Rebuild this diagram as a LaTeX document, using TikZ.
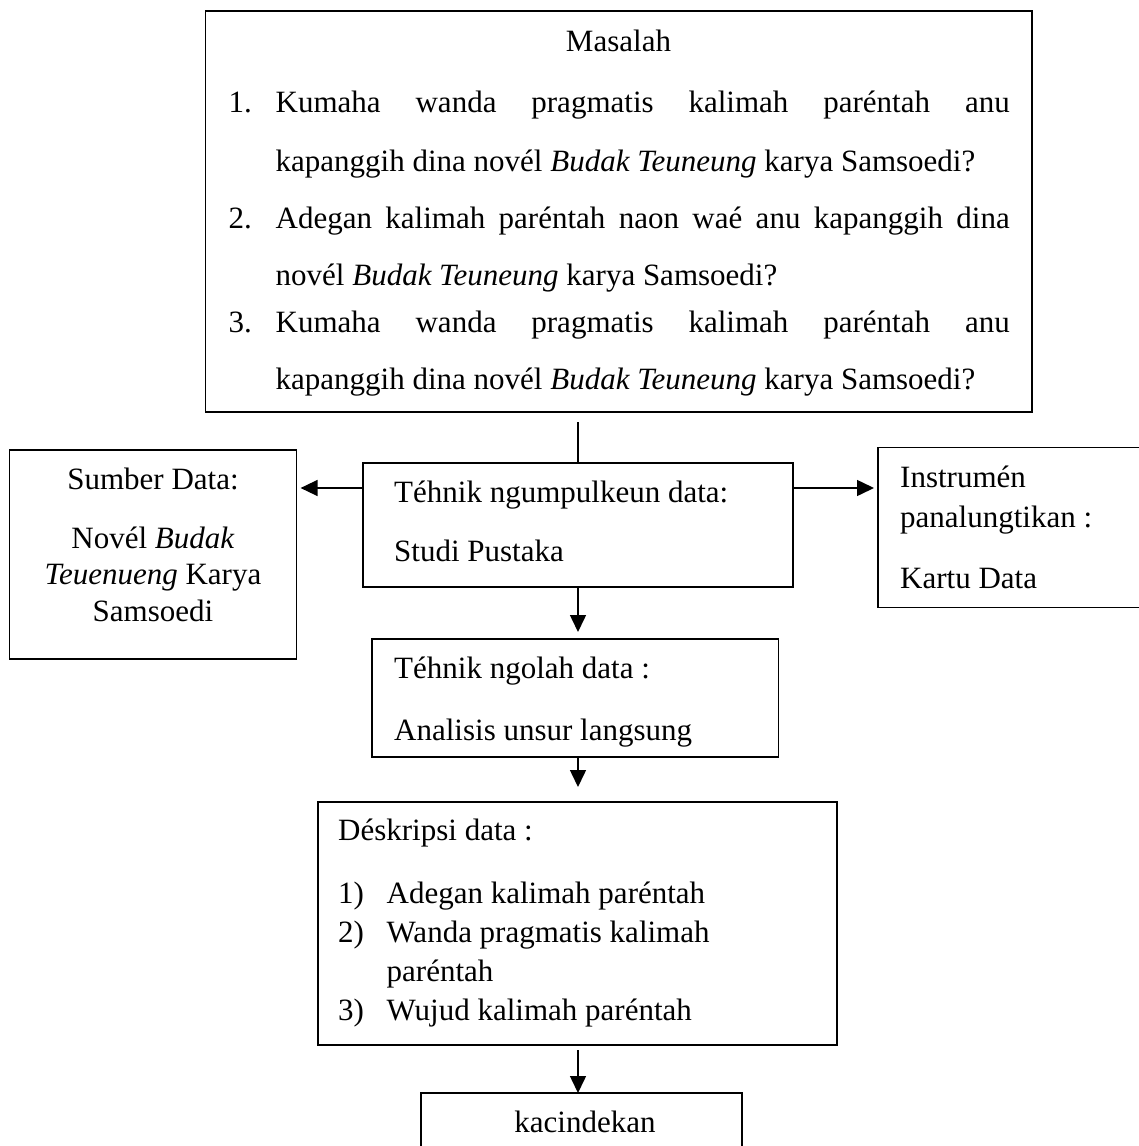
\documentclass[tikz,border=0pt]{standalone}
\usepackage{fontspec}
\setmainfont{Liberation Serif}
\usetikzlibrary{arrows.meta}
\begin{document}
\begin{tikzpicture}[x=1pt,y=-1pt,
  box/.style={draw, line width=1.3pt, inner sep=0pt, outer sep=0pt, anchor=north west},
  openbox/.style={inner sep=0pt, outer sep=0pt, anchor=north west},
  txt/.style={inner sep=0pt, anchor=base west, font=\fontsize{31}{37}\selectfont},
  ctxt/.style={inner sep=0pt, anchor=base, font=\fontsize{31}{37}\selectfont},
  arr/.style={line width=1.5pt, -{Triangle[length=17pt,width=16pt]}},
  plain/.style={line width=1.4pt}]
\useasboundingbox (0,0) rectangle (1138,1146);
\fill[white] (0,0) rectangle (1138,1146);

% boxes
\node[box, minimum width=826.5pt, minimum height=401pt] (top) at (205.5,11) {};
\node[box, minimum width=287pt, minimum height=209pt] (sumber) at (9.6,450) {};
\node[box, minimum width=430pt, minimum height=124pt] (tek) at (363,463) {};
\node[openbox, minimum width=262pt, minimum height=160pt] (instr) at (878,447.5) {};
\draw[line width=1.3pt] (instr.north east) -- (instr.north west) -- (instr.south west) -- (instr.south east);
\node[box, minimum width=406.5pt, minimum height=118pt] (olah) at (372,639) {};
\node[box, minimum width=519pt, minimum height=243pt] (desk) at (318,802) {};
\node[openbox, minimum width=321pt, minimum height=62pt] (kac) at (421,1093) {};
\draw[line width=1.3pt] (kac.south west) -- (kac.north west) -- (kac.north east) -- (kac.south east);

% top box text
\node[ctxt] (tmas) at (618.5,51) {Masalah};
\node[txt] (n1) at (228.5,112) {1.};
\node[txt] (l1a) at (275.5,112) {\makebox[734pt][s]{Kumaha wanda pragmatis kalimah paréntah anu}};
\node[txt] (l1b) at (275.5,171) {kapanggih dina novél \textit{Budak Teuneung} karya Samsoedi?};
\node[txt] (n2) at (228.5,228) {2.};
\node[txt] (l2a) at (275.5,228) {\makebox[734pt][s]{Adegan kalimah paréntah naon waé anu kapanggih dina}};
\node[txt] (l2b) at (275.5,285) {novél \textit{Budak Teuneung} karya Samsoedi?};
\node[txt] (n3) at (228.5,332) {3.};
\node[txt] (l3a) at (275.5,332) {\makebox[734pt][s]{Kumaha wanda pragmatis kalimah paréntah anu}};
\node[txt] (l3b) at (275.5,389) {kapanggih dina novél \textit{Budak Teuneung} karya Samsoedi?};

% sumber data
\node[ctxt] (s1) at (153,489) {Sumber Data:};
\node[ctxt] (s2) at (153,548) {Novél \textit{Budak}};
\node[ctxt] (s3) at (153,584) {\textit{Teuenueng} Karya};
\node[ctxt] (s4) at (153,621) {Samsoedi};

% tehnik ngumpulkeun
\node[txt] (t1) at (394,502) {Téhnik ngumpulkeun data:};
\node[txt] (t2) at (394,561) {Studi Pustaka};

% instrumen
\node[txt] (i1) at (900,487) {Instrumén};
\node[txt] (i2) at (900,527) {panalungtikan :};
\node[txt] (i3) at (900,588) {Kartu Data};

% tehnik ngolah
\node[txt] (o1) at (394,678) {Téhnik ngolah data :};
\node[txt] (o2) at (394,740) {Analisis unsur langsung};

% deskripsi
\node[txt] (d0) at (338,840) {Déskripsi data :};
\node[txt] (d1n) at (338,903) {1)};
\node[txt] (d1) at (386.5,903) {Adegan kalimah paréntah};
\node[txt] (d2n) at (338,942) {2)};
\node[txt] (d2) at (386.5,942) {Wanda pragmatis kalimah};
\node[txt] (d2b) at (386.5,981) {paréntah};
\node[txt] (d3n) at (338,1020) {3)};
\node[txt] (d3) at (386.5,1020) {Wujud kalimah paréntah};

% kacindekan
\node[ctxt] (k1) at (585,1132) {kacindekan};

% connectors
\coordinate (tline) at (578,422);
\coordinate (ya) at (0,488);
\draw[plain] (tline) -- (tline |- tek.north);
\draw[arr, shorten >=4pt] (tek.west |- ya) -- (sumber.east |- ya);
\draw[arr, shorten >=4pt] (tek.east |- ya) -- (instr.west |- ya);
\draw[arr, shorten >=7pt] (tek.south) -- (tek.south |- olah.north);
\draw[arr, shorten >=15pt] (olah.south -| tek.south) -- (desk.north -| tek.south);
\draw[arr, shorten <=5pt] (desk.south -| tek.south) -- (kac.north -| tek.south);
\end{tikzpicture}
\end{document}
